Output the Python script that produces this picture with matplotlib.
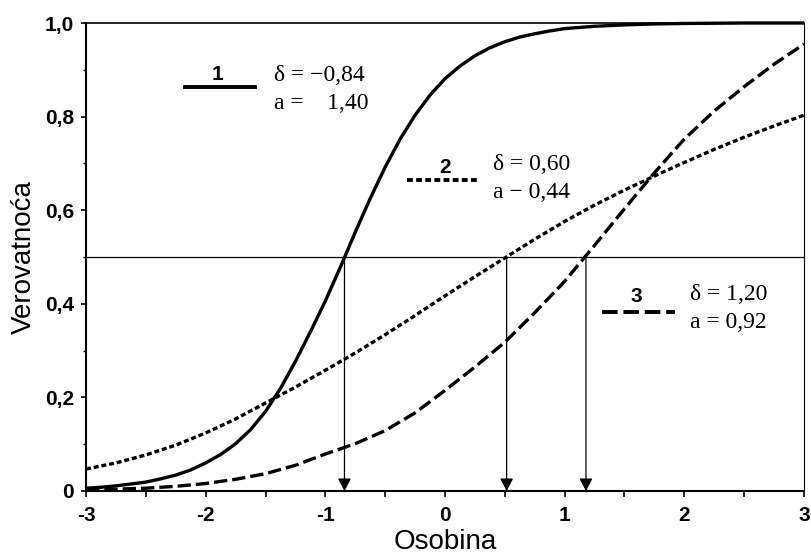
import matplotlib
matplotlib.use("Agg")
import matplotlib.pyplot as plt
from matplotlib.ticker import FixedLocator, FixedFormatter

# curve 1 (solid) on a finer grid where it bends
x_solid = [-3.0, -2.875, -2.75, -2.625, -2.5, -2.375, -2.25, -2.125, -2.0,
           -1.875, -1.75, -1.625, -1.5, -1.375, -1.25, -1.125, -1.0, -0.875,
           -0.75, -0.625, -0.5, -0.375, -0.25, -0.125, 0.0, 0.125, 0.25,
           0.375, 0.5, 0.625, 0.75, 0.875, 1.0, 1.25, 1.5, 1.75, 2.0, 2.5, 3.0]
p_solid = [0.006, 0.008, 0.011, 0.015, 0.019, 0.026, 0.034, 0.045, 0.060,
           0.078, 0.101, 0.131, 0.170, 0.219, 0.277, 0.340, 0.406, 0.478,
           0.553, 0.625, 0.692, 0.752, 0.803, 0.846, 0.881, 0.908, 0.930,
           0.947, 0.960, 0.970, 0.977, 0.983, 0.988, 0.993, 0.996, 0.998,
           0.999, 1.000, 1.000]

# curves 2 (dotted) and 3 (dashed)
x_grid = [-3.0, -2.75, -2.5, -2.25, -2.0, -1.75, -1.5, -1.25, -1.0, -0.75,
          -0.5, -0.25, 0.0, 0.25, 0.5, 0.75, 1.0, 1.25, 1.5, 1.75, 2.0, 2.25,
          2.5, 2.75, 3.0]
p_dotted = [0.047, 0.060, 0.077, 0.098, 0.124, 0.154, 0.188, 0.222, 0.258,
            0.295, 0.334, 0.375, 0.417, 0.458, 0.498, 0.538, 0.576, 0.611,
            0.643, 0.673, 0.702, 0.730, 0.756, 0.780, 0.803]
p_dashed = [0.003, 0.004, 0.006, 0.010, 0.016, 0.025, 0.037, 0.055, 0.079,
            0.101, 0.129, 0.167, 0.215, 0.265, 0.318, 0.381, 0.448, 0.525,
            0.603, 0.680, 0.752, 0.812, 0.864, 0.912, 0.955]

# where each curve crosses 0.5
arrow_x = [-0.84, 0.515, 1.178]

curve_ids = ["1", "2", "3"]
delta_labels = ["\u03b4 = \u22120,84", "\u03b4 = 0,60", "\u03b4 = 1,20"]
a_labels = ["a =    1,40", "a \u2212 0,44", "a = 0,92"]

x_ticks = [-3, -2, -1, 0, 1, 2, 3]
x_ticklabels = ["-3", "-2", "-1", "0", "1", "2", "3"]
y_ticks = [0, 0.2, 0.4, 0.6, 0.8, 1.0]
y_ticklabels = ["0", "0,2", "0,4", "0,6", "0,8", "1,0"]

plt.rcParams["font.family"] = ["Liberation Sans", "DejaVu Sans"]

W, H = 812, 560
fig = plt.figure(figsize=(W / 100, H / 100), dpi=100)
ax = fig.add_axes([86 / W, 69 / H, 718 / W, 468 / H])

LW = 2.4
dot_style = (0, (1.5, 0.85))
dash_style = (0, (4.0, 1.5))
styles = ["-", dot_style, dash_style]

ax.plot(x_solid, p_solid, color="black", lw=LW, ls="-", clip_on=False,
        solid_capstyle="butt")
ax.plot(x_grid, p_dotted, color="black", lw=LW, ls=dot_style, clip_on=False,
        dash_capstyle="butt")
ax.plot(x_grid, p_dashed, color="black", lw=LW, ls=dash_style, clip_on=False,
        dash_capstyle="butt")

# 0.5 reference line and arrows down to the axis
ax.axhline(0.5, color="black", lw=0.9)
for xa in arrow_x:
    ax.annotate("", xy=(xa, 0), xytext=(xa, 0.5),
                arrowprops=dict(arrowstyle="-|>,head_length=0.38,head_width=0.2",
                                color="black", lw=0.9, shrinkA=0, shrinkB=0,
                                mutation_scale=20))

# hand-made legend entries
legend_line_x = [(-2.19, -1.574), (-0.318, 0.267), (1.309, 1.922)]
legend_line_y = [0.864, 0.6645, 0.383]
num_pos = [(-1.905, 0.879), (0.0, 0.679), (1.602, 0.4045)]
text_x = [-1.43, 0.404, 2.047]
delta_y = [0.876, 0.686, 0.408]
a_y = [0.8156, 0.625, 0.3476]

for i in range(3):
    ax.plot(legend_line_x[i], [legend_line_y[i]] * 2, color="black", lw=LW + 0.4,
            ls=styles[i], dash_capstyle="butt", solid_capstyle="butt")
    ax.text(num_pos[i][0], num_pos[i][1], curve_ids[i], ha="center", va="baseline",
            fontsize=15, fontweight="bold")
    ax.text(text_x[i], delta_y[i], delta_labels[i], ha="left", va="baseline",
            fontsize=17, family=["Liberation Serif", "DejaVu Serif"])
    ax.text(text_x[i], a_y[i], a_labels[i], ha="left", va="baseline",
            fontsize=17, family=["Liberation Serif", "DejaVu Serif"])

ax.set_xlim(-3, 3)
ax.set_ylim(0, 1)
ax.xaxis.set_major_locator(FixedLocator(x_ticks))
ax.xaxis.set_major_formatter(FixedFormatter(x_ticklabels))
ax.xaxis.set_minor_locator(FixedLocator([-2.5, -1.5, -0.5, 0.5, 1.5, 2.5]))
ax.yaxis.set_major_locator(FixedLocator(y_ticks))
ax.yaxis.set_major_formatter(FixedFormatter(y_ticklabels))
ax.yaxis.set_minor_locator(FixedLocator([0.1, 0.3, 0.5, 0.7, 0.9]))

ax.tick_params(axis="x", which="both", direction="out", length=4.5, width=1.2,
               pad=6, labelsize=15)
ax.tick_params(axis="y", which="major", direction="out", length=3.5, width=1.2,
               pad=5, labelsize=15)
ax.tick_params(axis="y", which="minor", direction="out", length=2.5, width=1.0)
for lab in ax.get_xticklabels() + ax.get_yticklabels():
    lab.set_fontweight("bold")

for side in ["left", "bottom"]:
    ax.spines[side].set_linewidth(1.5)
ax.spines["top"].set_linewidth(1.2)
ax.spines["right"].set_linewidth(0.8)

ax.set_xlabel("Osobina", fontsize=20, labelpad=3)
ax.set_ylabel("Verovatno\u0107a", fontsize=20, labelpad=6)

fig.savefig("out.png", dpi=100)
